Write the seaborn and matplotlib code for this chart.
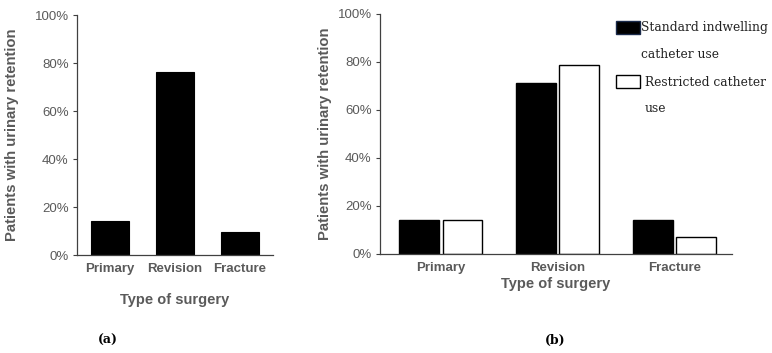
import matplotlib
matplotlib.use("Agg")
import matplotlib.pyplot as plt
from matplotlib.patches import Rectangle
import seaborn as sns
import pandas as pd
from matplotlib.ticker import PercentFormatter

categories = ["Primary", "Revision", "Fracture"]
overall = [14.3, 76.2, 9.5]
standard = [14.3, 71.4, 14.3]
restricted = [14.3, 78.6, 7.1]
groups = ["Standard indwelling catheter use", "Restricted catheter use"]
yticks = [0, 20, 40, 60, 80, 100]

sns.set_theme(style="ticks")
plt.rcParams["font.family"] = ["Liberation Sans", "DejaVu Sans"]

GRAY = "#5a5a5a"
AX = "#404040"

fig = plt.figure(figsize=(7.72, 3.53), dpi=100)
ax1 = fig.add_axes([77/772, 1-255/353, (273-77)/772, 240/353])
ax2 = fig.add_axes([380/772, 1-254/353, (732-380)/772, 240/353])

df1 = pd.DataFrame({"Type": categories, "Value": overall})
sns.barplot(data=df1, x="Type", y="Value", color="black", edgecolor="black",
            linewidth=0.8, width=0.58, saturation=1, ax=ax1)

df2 = pd.DataFrame({
    "Type": categories * 2,
    "Value": standard + restricted,
    "Group": [groups[0]] * 3 + [groups[1]] * 3,
})
sns.barplot(data=df2, x="Type", y="Value", hue="Group", hue_order=groups,
            palette=["black", "white"], edgecolor="black", linewidth=1.0,
            width=0.74, gap=0.08, saturation=1, legend=False, ax=ax2)

for ax, xl, lp in ((ax1, (-0.51, 2.51), 11), (ax2, (-0.52, 2.49), 4)):
    ax.set_ylim(0, 100)
    ax.set_xlim(*xl)
    ax.set_yticks(yticks)
    ax.yaxis.set_major_formatter(PercentFormatter(decimals=0))
    ax.tick_params(axis="y", length=3, width=0.8, color=AX, labelsize=9.5,
                   labelcolor=GRAY, pad=3)
    ax.tick_params(axis="x", length=0, labelsize=9.5, labelcolor=GRAY, pad=6)
    for lab in ax.get_xticklabels():
        lab.set_fontweight("bold")
    for s in ("top", "right"):
        ax.spines[s].set_visible(False)
    for s in ("left", "bottom"):
        ax.spines[s].set_color(AX)
        ax.spines[s].set_linewidth(0.9)
    ax.set_ylabel("Patients with urinary retention", fontsize=10.7,
                  fontweight="bold", color=GRAY, labelpad=lp)
    ax.set_facecolor("white")

ax1.set_xlabel("Type of surgery", fontsize=10.5, fontweight="bold",
               color=GRAY, labelpad=13)
ax2.set_xlabel("Type of surgery", fontsize=10.5, fontweight="bold",
               color=GRAY, labelpad=2)

# legend drawn by hand to match the two-line wrapped entries
serif = {"family": "DejaVu Serif", "size": 8.8, "color": "#222222"}
fig.add_artist(Rectangle((616/772, 1-34/353), 24/772, 13/353,
                         transform=fig.transFigure, facecolor="black",
                         edgecolor="#1a2a4a", linewidth=1.0))
fig.add_artist(Rectangle((616/772, 1-88/353), 24/772, 13/353,
                         transform=fig.transFigure, facecolor="white",
                         edgecolor="black", linewidth=1.0))
fig.text(641/772, 1-28/353, "Standard indwelling", va="center", ha="left", **serif)
fig.text(641/772, 1-54/353, "catheter use", va="center", ha="left", **serif)
fig.text(645/772, 1-82/353, "Restricted catheter", va="center", ha="left", **serif)
fig.text(645/772, 1-108/353, "use", va="center", ha="left", **serif)

fig.text(108/772, 1-340/353, "(a)", ha="center", va="center",
         fontsize=9, fontweight="bold", family="DejaVu Serif", color="black")
fig.text(555/772, 1-340/353, "(b)", ha="center", va="center",
         fontsize=9, fontweight="bold", family="DejaVu Serif", color="black")

fig.savefig("out.png", dpi=100, facecolor="white")
